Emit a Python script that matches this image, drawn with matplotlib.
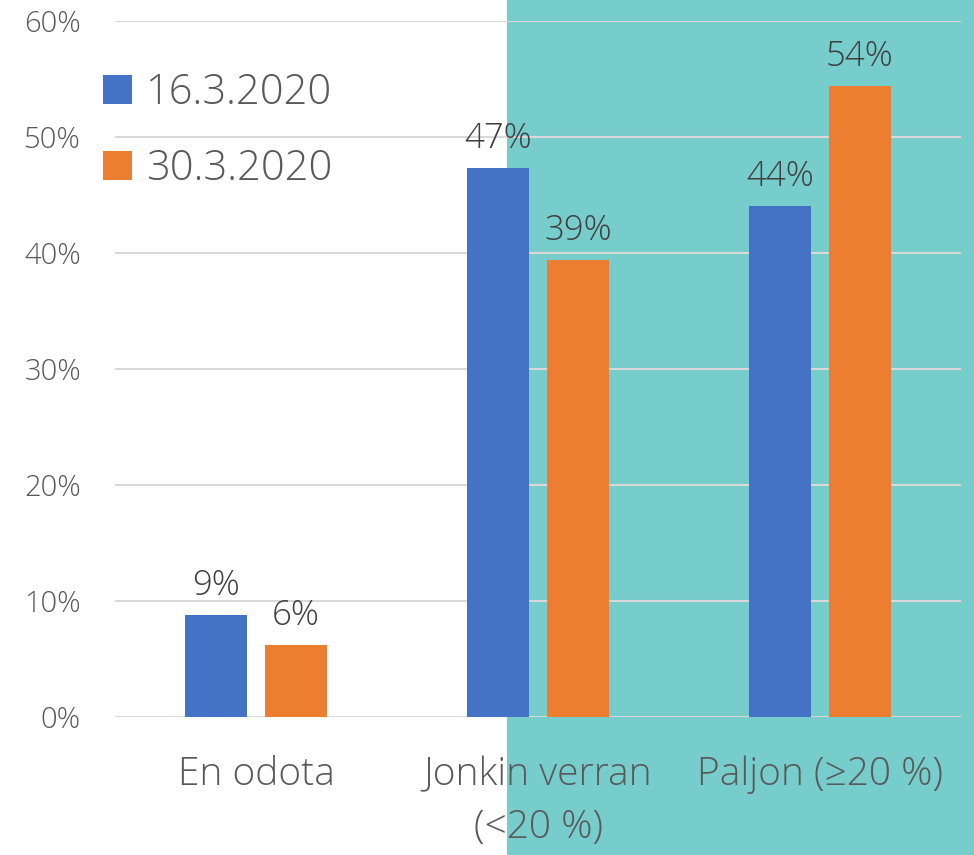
import matplotlib.pyplot as plt
from matplotlib.patches import Rectangle
import numpy as np

categories = ["En odota", "Jonkin verran\n(<20 %)", "Paljon (≥20 %)"]
series_names = ["16.3.2020", "30.3.2020"]
values_1603 = [8.8, 47.3, 44.0]
values_3003 = [6.2, 39.4, 54.4]
yticks = [0, 10, 20, 30, 40, 50, 60]

blue = "#4472C4"
orange = "#ED7D31"
teal = "#77CDCB"

plt.rcParams['font.family'] = ['Open Sans', 'DejaVu Sans']
plt.rcParams['font.weight'] = 'light'

fig = plt.figure(figsize=(9.74, 8.55), dpi=100)
fig.add_artist(Rectangle((507 / 974, 0), 1 - 507 / 974, 1, transform=fig.transFigure,
                         facecolor=teal, edgecolor='none', zorder=-5))
ax = fig.add_axes([115 / 974, 1 - 716.7 / 855, (961 - 115) / 974, (716.7 - 20.7) / 855])
ax.set_facecolor('none')

x = np.arange(len(categories))
w = 0.223
off = 0.1418
b1 = ax.bar(x - off, values_1603, w, color=blue, label=series_names[0], zorder=3)
b2 = ax.bar(x + off, values_3003, w, color=orange, label=series_names[1], zorder=3)

for bars, vals in ((b1, values_1603), (b2, values_3003)):
    for r, v in zip(bars, vals):
        ax.annotate(f"{v:.0f}%", (r.get_x() + r.get_width() / 2, v), xytext=(0, 20),
                    textcoords='offset pixels', ha='center', va='baseline',
                    fontsize=25, color='#404040', fontweight='light')

ax.set_xlim(-0.5, 2.5)
ax.set_ylim(0, 60)
ax.set_yticks(yticks)
ax.set_yticklabels([f"{t}%" for t in yticks])
ax.set_xticks(x)
ax.set_xticklabels(categories, fontsize=28, linespacing=1.5)
ax.tick_params(axis='y', length=0, labelsize=21, labelcolor='#595959', pad=24.5)
ax.tick_params(axis='x', length=0, labelcolor='#595959', pad=28)
ax.grid(axis='y', color='#D9D9D9', linewidth=1.5, zorder=0)
for s in ax.spines.values():
    s.set_visible(False)

leg = ax.legend(loc='upper left', bbox_to_anchor=(103 / 974, 1 - 72 / 855),
                bbox_transform=fig.transFigure, frameon=False, fontsize=30,
                handlelength=0.7, handleheight=0.7, handletextpad=0.34,
                labelspacing=0.8, borderpad=0, borderaxespad=0)
for t in leg.get_texts():
    t.set_color('#595959')

fig.savefig("out.png", dpi=100)
